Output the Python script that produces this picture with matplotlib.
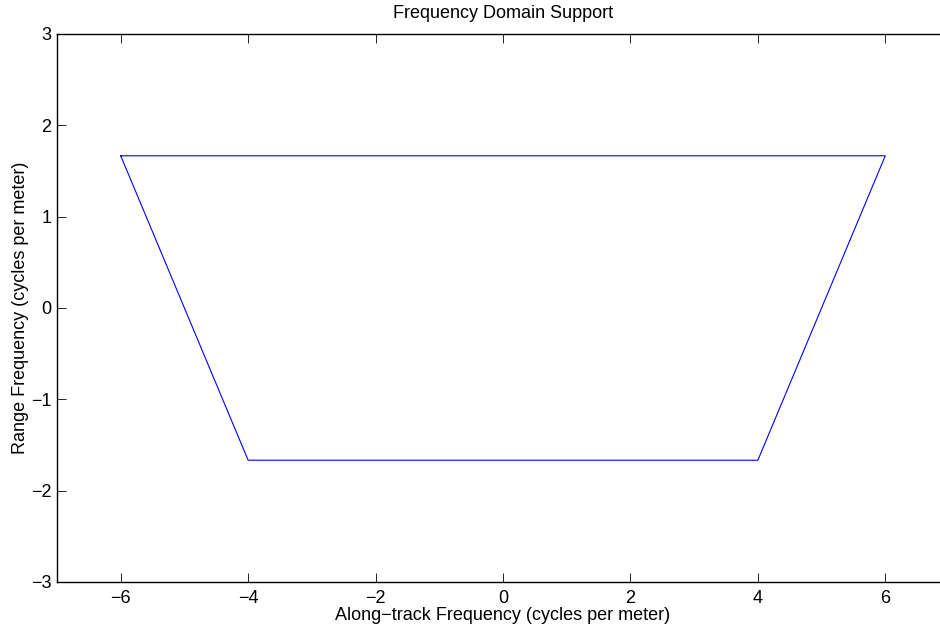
import matplotlib
matplotlib.use("Agg")
import matplotlib.pyplot as plt

# Data: polygon corners of the frequency support
along_track = [-6, 6, 4, -4, -6]
range_freq = [5/3, 5/3, -5/3, -5/3, 5/3]
xticks = [-6, -4, -2, 0, 2, 4, 6]
yticks = [-3, -2, -1, 0, 1, 2, 3]

plt.rcParams['font.family'] = ['Liberation Sans', 'DejaVu Sans']
plt.rcParams['axes.unicode_minus'] = True

fig = plt.figure(figsize=(9.4, 6.28), dpi=100)
ax = fig.add_axes([57/940, 46/628, 892/940, 548/628])
ax.plot(along_track, range_freq, color=(0, 0, 1), linewidth=0.8)
ax.set_xlim(-7, 7)
ax.set_ylim(-3, 3)
ax.set_xticks(xticks)
ax.set_yticks(yticks)
ax.tick_params(direction='in', length=6.5, width=0.6, top=True, right=True,
               labelsize=13, pad=4, colors='black')
ax.tick_params(axis='x', pad=6)
for s in ax.spines.values():
    s.set_linewidth(1.0)
ax.set_title('Frequency Domain Support', fontsize=13, pad=11.5)
ax.set_xlabel('Along\u2212track Frequency (cycles per meter)', fontsize=13, labelpad=0)
ax.set_ylabel('Range Frequency (cycles per meter)', fontsize=13, labelpad=1.5)
fig.savefig('out.png', dpi=100)
